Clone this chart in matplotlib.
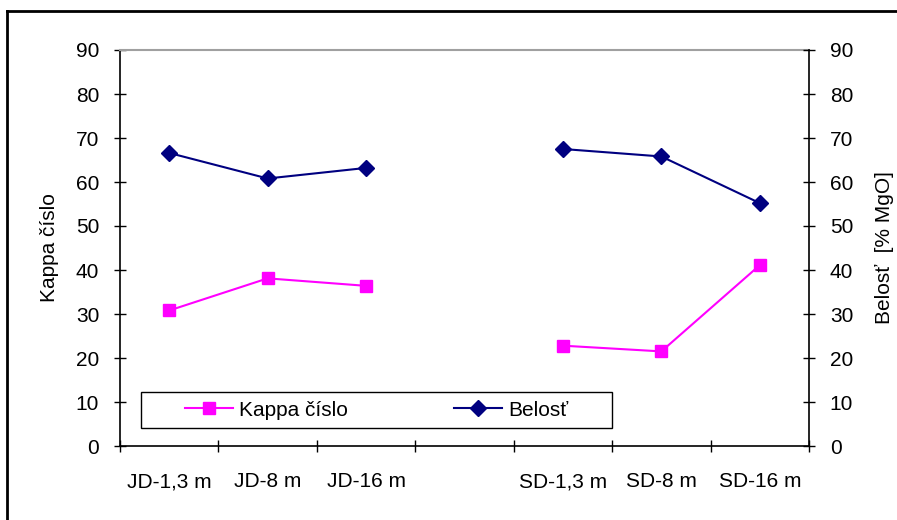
import numpy as np
import matplotlib
matplotlib.use("Agg")
import matplotlib.pyplot as plt
from matplotlib.lines import Line2D
from matplotlib.patches import Rectangle

categories = ["JD-1,3 m", "JD-8 m", "JD-16 m", "", "SD-1,3 m", "SD-8 m", "SD-16 m"]
kappa = [30.8, 38.1, 36.4, np.nan, 22.8, 21.5, 41.1]
belost = [66.6, 60.8, 63.2, np.nan, 67.5, 65.8, 55.2]
yticks = [0, 10, 20, 30, 40, 50, 60, 70, 80, 90]

plt.rcParams['font.family'] = ['Liberation Sans', 'DejaVu Sans']
FS = 15

W, H = 897, 520
fig = plt.figure(figsize=(W / 100, H / 100), dpi=100)
L, R, T, B = 120, 809, 50, 446
ax = fig.add_axes([L / W, 1 - B / H, (R - L) / W, (B - T) / H])

x = np.arange(len(categories))
ax.plot(x, kappa, color='#FF00FF', lw=1.5, marker='s', markersize=9,
        label='Kappa číslo', zorder=3)
ax.plot(x, belost, color='#000080', lw=1.5, marker='D', markersize=8,
        label='Belosť', zorder=3)

ax.set_xlim(-0.5, len(categories) - 0.5)
ax.set_ylim(0, 90)
ax.set_yticks(yticks)
ax.set_xticks(np.arange(len(categories) + 1) - 0.5)
ax.set_xticklabels([])
ax.set_xticks(x, minor=True)
ax.set_xticklabels(categories, minor=True, fontsize=FS)
ax.tick_params(axis='x', which='major', direction='inout', length=8, width=1)
ax.tick_params(axis='x', which='minor', length=0, pad=19)
ax.tick_params(axis='y', direction='inout', length=8, width=1, labelsize=FS, pad=11)

for s in ['left', 'bottom']:
    ax.spines[s].set_color('black')
    ax.spines[s].set_linewidth(1.2)
ax.spines['top'].set_color('#a0a0a0')
ax.spines['top'].set_linewidth(1.5)
ax.spines['right'].set_visible(False)

ax2 = ax.twinx()
ax2.set_ylim(0, 90)
ax2.set_yticks(yticks)
ax2.tick_params(axis='y', direction='inout', length=8, width=1, labelsize=FS, pad=11)
for s in ['left', 'top', 'bottom']:
    ax2.spines[s].set_visible(False)
ax2.spines['right'].set_color('black')
ax2.spines['right'].set_linewidth(1.2)

ax.set_ylabel('Kappa číslo', fontsize=FS, labelpad=12)
ax2.set_ylabel('Belosť  [% MgO]', fontsize=FS, labelpad=16)

# legend frame
x0 = (141 - L) / (R - L)
y0 = (B - 428) / (B - T)
w = (612 - 141) / (R - L)
h = (428 - 392) / (B - T)
ax.add_patch(Rectangle((x0, y0), w, h, transform=ax.transAxes, facecolor='white',
                       edgecolor='black', lw=1, zorder=4))
leg = ax.legend(loc='center', bbox_to_anchor=(x0 + w / 2, y0 + h / 2), ncol=2,
                frameon=False, fontsize=FS, handlelength=2.3, handletextpad=0.3,
                columnspacing=5.1, borderaxespad=0)
leg.set_zorder(5)

# outer frame
fig.add_artist(Line2D([7 / W, 7 / W], [0, 1 - 11 / H], color='black', lw=2,
                      transform=fig.transFigure))
fig.add_artist(Line2D([7 / W, 1], [1 - 11 / H, 1 - 11 / H], color='black', lw=2,
                      transform=fig.transFigure))

fig.savefig('out.png', dpi=100)
